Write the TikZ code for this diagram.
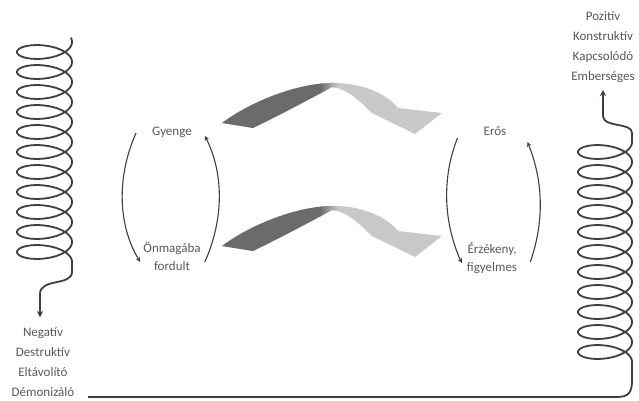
\documentclass[tikz,border=0pt]{standalone}
\usepackage{fontspec}
\setmainfont{Carlito}
\definecolor{inkgray}{HTML}{3F3F3F}
\definecolor{txtgray}{HTML}{585858}
\definecolor{ribdark}{HTML}{6B6B6B}
\definecolor{riblight}{HTML}{C8C8C8}
\newcommand{\ribbonpath}{(222,123) .. controls (250,102) and (295,84) .. (330,83)
    .. controls (358,82) and (385,92) .. (398,108) -- (442,113) -- (415,134) -- (372,113)
    .. controls (358,99) and (345,88) .. (332,87) .. controls (312,98) and (278,116) .. (253,128) -- cycle}
\begin{document}
\begin{tikzpicture}[>=stealth, x=1pt, y=-1pt,
    txt/.style={text=txtgray, font=\fontsize{13}{20}\selectfont, align=center, inner sep=1pt},
    pair/.style={txt, font=\fontsize{13}{18}\selectfont},
    spring/.style={draw=inkgray, line width=1.8pt},
    cyc/.style={->, draw=inkgray, line width=1.1pt}]
\useasboundingbox (0,0) rectangle (639,401);

\node[txt] (neg) at (43,362) {Negatív\\Destruktív\\Eltávolító\\Démonizáló};
\node[txt] (poz) at (603,47) {Pozitív\\Konstruktív\\Kapcsolódó\\Emberséges};
\node[txt] (gy) at (172,132) {Gyenge};
\node[pair] (on) at (172,256) {Önmagába\\fordult};
\node[txt] (er) at (495,131) {Erős};
\node[pair] (ez) at (492,258) {Érzékeny,\\figyelmes};
\coordinate (base) at (88,397);

% left spring
\draw[spring,->] plot[domain=-17:3960, samples=664] ({44.5+27.5*cos(\x)}, {42+\x/18+11.5*sin(\x)})
    -- (72,272) .. controls (72,286) and (40,278) .. (40,294) -- ([shift={(-3,-9)}]neg.north);

% right spring
\draw[spring,->] (base) -- (617,397) .. controls (629,397) and (632,392) .. (632,380) -- (632,362)
    -- plot[domain=3960:0, samples=661] ({605+27*cos(\x)}, {142+\x/18+11.5*sin(\x)})
    -- (632,133) .. controls (632,122) and (603,128) .. (603,116) -- ([yshift=-6pt]poz.south);

% cycles
\draw[cyc] ([shift={(-15,1)}]gy.west) .. controls +(-18,40) and +(-24,-40) .. ([shift={(-2,6)}]on.west);
\draw[cyc] ([shift={(3,6)}]on.east) .. controls +(18,-40) and +(20,40) .. ([shift={(12,4)}]gy.east);
\draw[cyc] ([shift={(-25,7)}]er.west) .. controls +(-16,40) and +(-18,-40) .. ([shift={(-4,5)}]ez.west);
\draw[cyc] ([shift={(12,4)}]ez.east) .. controls +(14,-40) and +(16,40) .. ([shift={(20,11)}]er.east);

% ribbons
\foreach \dy in {0,123}
{
    \begin{scope}[shift={(0,\dy)}]
        \clip \ribbonpath;
        \fill[riblight] (210,70) rectangle (450,140);
        \fill[ribdark] (210,70) rectangle (321,140);
        \shade[left color=ribdark, right color=riblight] (320,70) rectangle (338,140);
    \end{scope}
}
\end{tikzpicture}
\end{document}
